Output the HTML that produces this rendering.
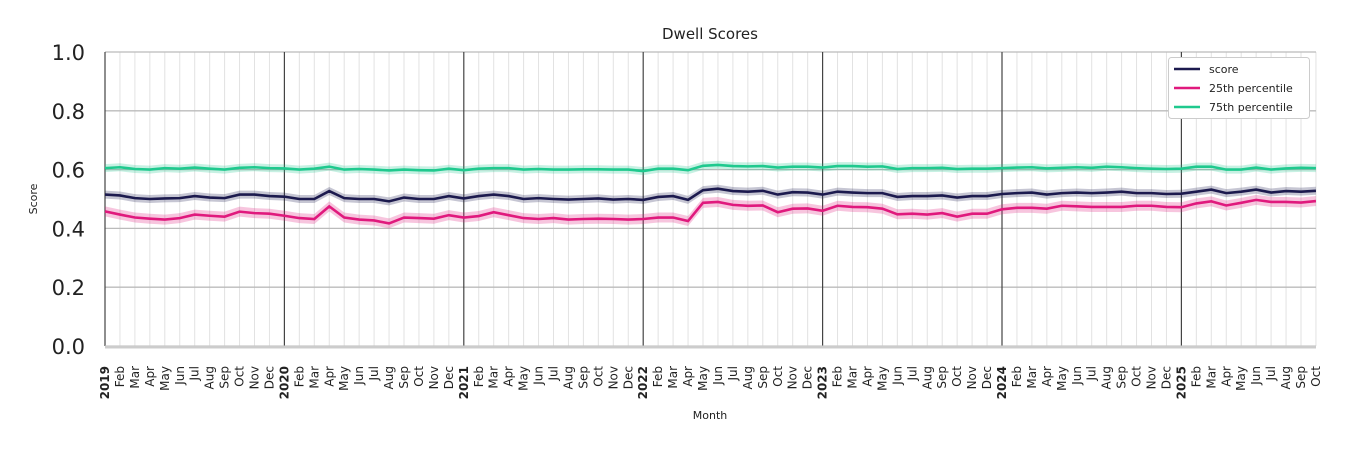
<!DOCTYPE html>
<html><head><meta charset="utf-8"><style>
body{margin:0;background:#fff;font-family:"Liberation Sans","DejaVu Sans",sans-serif}
</style></head><body>
<svg id="s" width="1350" height="450" xmlns="http://www.w3.org/2000/svg" font-family="DejaVu Sans, Liberation Sans, sans-serif"></svg>
<script>
const S=document.getElementById('s');
const X0=105,DX=14.95,Y=v=>346-v*294;
const sc=[.515,.512,.503,.5,.502,.503,.51,.505,.503,.515,.515,.51,.508,.5,.5,.527,.503,.5,.5,.492,.505,.5,.5,.51,.502,.51,.515,.51,.5,.503,.5,.498,.5,.502,.498,.5,.497,.507,.51,.497,.53,.535,.527,.525,.528,.515,.523,.522,.515,.525,.522,.52,.52,.507,.51,.51,.512,.505,.51,.51,.517,.52,.522,.515,.52,.522,.52,.522,.525,.52,.52,.517,.518,.525,.532,.52,.525,.532,.522,.527,.525,.528];
const p25=[.458,.447,.437,.433,.43,.435,.447,.443,.44,.457,.452,.45,.443,.435,.432,.475,.437,.43,.427,.417,.437,.435,.433,.445,.437,.442,.455,.445,.435,.432,.435,.43,.432,.433,.432,.43,.432,.437,.437,.425,.487,.49,.48,.477,.478,.455,.467,.468,.46,.477,.473,.472,.467,.448,.45,.447,.452,.44,.45,.45,.465,.47,.47,.467,.477,.475,.473,.473,.473,.477,.477,.473,.472,.485,.492,.478,.487,.497,.49,.49,.488,.493];
const p75=[.605,.608,.602,.6,.605,.603,.607,.603,.6,.606,.608,.605,.604,.6,.603,.61,.6,.602,.6,.597,.6,.598,.597,.603,.598,.603,.605,.605,.6,.602,.6,.6,.601,.601,.6,.6,.595,.603,.603,.598,.613,.616,.612,.611,.612,.607,.61,.61,.607,.612,.612,.61,.611,.602,.605,.605,.606,.602,.603,.603,.605,.607,.608,.604,.606,.608,.606,.61,.608,.605,.603,.602,.603,.61,.61,.6,.6,.607,.6,.604,.606,.605];
let h='';
h+=`<text x="710" y="39" font-size="15" text-anchor="middle" fill="#222">Dwell Scores</text>`;
const mn=['Jan','Feb','Mar','Apr','May','Jun','Jul','Aug','Sep','Oct','Nov','Dec'];
for(let i=0;i<82;i++){const x=X0+i*DX;
 if(i%12) h+=`<line x1="${x}" y1="52" x2="${x}" y2="346" stroke="#e2e2e2" stroke-width="1"/>`;
 const lab=i%12?mn[i%12]:String(2019+i/12);
 h+=`<text transform="translate(${x+4},366) rotate(-90)" font-size="12" text-anchor="end" fill="#222" ${i%12?'':'font-weight="bold"'}>${lab}</text>`;}
for(let v=0;v<=5;v++){const y=Y(v*.2);
 h+=`<line x1="105" y1="${y}" x2="1316" y2="${y}" stroke="#bbb" stroke-width="1.3"/>`;
 h+=`<text x="85" y="${y+8}" font-size="21" text-anchor="end" fill="#222">${(v*.2).toFixed(1)}</text>`;}
for(let k=0;k<=6;k++){const x=X0+k*12*DX;h+=`<line x1="${x}" y1="52" x2="${x}" y2="346" stroke="#444" stroke-width="1.2"/>`;}
h+=`<line x1="105" y1="347" x2="1316" y2="347" stroke="#ccc" stroke-width="3"/>`;
function ser(d,c,w){const pts=d.map((v,i)=>[X0+i*DX,Y(v)]);
 const up=pts.map(p=>p[0]+','+(p[1]-w)).join(' '),dn=pts.slice().reverse().map(p=>p[0]+','+(p[1]+w)).join(' ');
 h+=`<polygon points="${up} ${dn}" fill="${c}" opacity="0.25"/>`;
 h+=`<polyline points="${pts.map(p=>p.join(',')).join(' ')}" fill="none" stroke="${c}" stroke-width="2.6"/>`;}
ser(p75,'#1fc98e',4);ser(sc,'#1c1a4e',4);ser(p25,'#e0197d',5);
h+=`<text transform="translate(37,199) rotate(-90)" font-size="11" text-anchor="middle" fill="#222">Score</text>`;
h+=`<text x="710" y="419" font-size="11" text-anchor="middle" fill="#222">Month</text>`;
h+=`<rect x="1168.5" y="57.5" width="141" height="61" rx="3" fill="#fff" stroke="#ccc"/>`;
[['score','#1c1a4e'],['25th percentile','#e0197d'],['75th percentile','#1fc98e']].forEach((e,i)=>{const y=69+i*19;
 h+=`<line x1="1174" y1="${y}" x2="1200" y2="${y}" stroke="${e[1]}" stroke-width="2.6"/><text x="1209" y="${y+4}" font-size="11" fill="#222">${e[0]}</text>`;});
S.innerHTML=h;
</script>
</body></html>
